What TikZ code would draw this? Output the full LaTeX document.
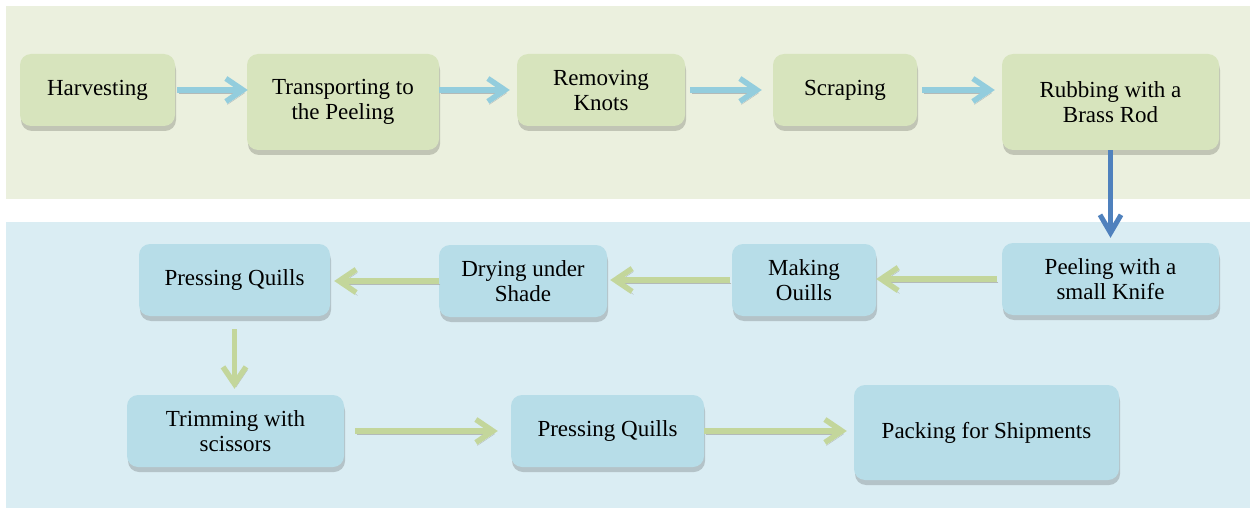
\documentclass[tikz,border=0pt]{standalone}
\usepackage{fontspec}
\setmainfont{Liberation Serif}
\usetikzlibrary{arrows.meta,shadows}
\definecolor{topband}{HTML}{EBF0DE}
\definecolor{topbox}{HTML}{D7E4BD}
\definecolor{topshadow}{HTML}{C1C5B5}
\definecolor{botband}{HTML}{DAEDF3}
\definecolor{botbox}{HTML}{B7DDE8}
\definecolor{botshadow}{HTML}{B4C3C8}
\definecolor{lblue}{HTML}{93CDDD}
\definecolor{dblue}{HTML}{4F81BD}
\definecolor{lgreen}{HTML}{C3D69B}
\definecolor{arrshadow}{HTML}{B3BAB8}
\begin{document}
\begin{tikzpicture}[x=1pt,y=-1pt,
  sz/.style 2 args={minimum width=#1pt, minimum height=#2pt},
  procbox/.style={rounded corners=11pt, align=center, inner sep=0pt,
    font=\fontsize{23}{25}\selectfont, text=black},
  gbox/.style={procbox, fill=topbox,
    drop shadow={shadow xshift=1pt, shadow yshift=-5pt, fill=topshadow, opacity=1}},
  bbox/.style={procbox, fill=botbox,
    drop shadow={shadow xshift=1pt, shadow yshift=-5pt, fill=botshadow, opacity=1}},
  flow/.style={line width=5.5pt, -{Straight Barb[length=17pt,width=23pt]},
    preaction={draw=arrshadow, transform canvas={shift={(1.5pt,-3pt)}}}},
  bflow/.style={flow, draw=lblue},
  gflow/.style={flow, draw=lgreen},
  dflow/.style={line width=5pt, draw=dblue, -{Straight Barb[length=18pt,width=21pt]},
    preaction={draw=arrshadow, transform canvas={shift={(1pt,-1pt)}}}}
]
\useasboundingbox (0,0) rectangle (1250,508);
% bands
\fill[topband] (6,6) rectangle (1250,199);
\fill[botband] (6,222) rectangle (1250,508);

% top row
\node[gbox, sz={155}{72}] (h) at (97.5,90) {Harvesting};
\node[gbox, sz={192}{96}] (t) at (343,102) {Transporting to\\the Peeling};
\node[gbox, sz={168}{72}] (r) at (601,90) {Removing\\Knots};
\node[gbox, sz={144}{72}] (s) at (845,90) {Scraping};
\node[gbox, sz={217}{96}] (rb) at (1110.5,102) {Rubbing with a\\Brass Rod};

% second row
\node[bbox, sz={217}{72}] (p) at (1110.5,279) {Peeling with a\\small Knife};
\node[bbox, sz={144}{72}] (m) at (804,280) {Making\\Ouills};
\node[bbox, sz={168}{72}] (d) at (523,281) {Drying under\\Shade};
\node[bbox, sz={191}{72}] (q1) at (234.5,280) {Pressing Quills};

% third row
\node[bbox, sz={217}{72}] (tr) at (235.5,431) {Trimming with\\scissors};
\node[bbox, sz={193}{72}] (q2) at (607.5,431) {Pressing Quills};
\node[bbox, sz={265}{95}] (pk) at (986.5,432.5) {Packing for Shipments};

% connectors
\draw[bflow, shorten <=2pt, shorten >=-1pt] (h.east) -- (h.east -| t.west);
\draw[bflow, shorten >=7pt] (r.west -| t.east) -- (r.west);
\draw[bflow, shorten <=5pt, shorten >=11pt] (r.east) -- (s.west);
\draw[bflow, shorten <=5pt, shorten >=7pt] (s.east) -- (s.east -| rb.west);
\draw[dflow, shorten >=5pt] (rb.south) -- (p.north);
\draw[gflow, shorten <=5pt] (p.west) -- (p.west -| m.east);
\draw[gflow, shorten <=2pt, shorten >=3pt] (m.west) -- (m.west -| d.east);
\draw[gflow, shorten >=4pt] (d.west) -- (d.west -| q1.east);
\draw[gflow, shorten <=13pt, shorten >=6pt] (q1.south) -- (q1.south |- tr.north);
\draw[gflow, shorten <=11pt, shorten >=13pt] (tr.east) -- (q2.west);
\draw[gflow, shorten >=7pt] (q2.east) -- (q2.east -| pk.west);
\end{tikzpicture}
\end{document}
